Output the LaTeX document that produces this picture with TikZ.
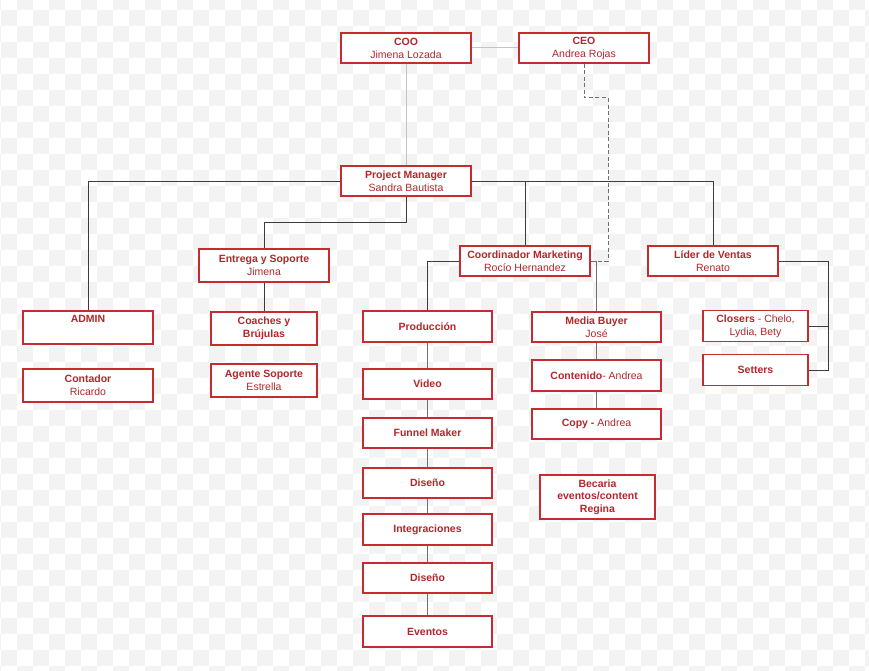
\documentclass[tikz,border=0pt]{standalone}
\usepackage{fontspec}
\setmainfont{Liberation Sans}
\usepackage{tikz}
\usetikzlibrary{calc}

\definecolor{boxred}{HTML}{C62B2F}
\definecolor{txtred}{HTML}{B3262B}
\definecolor{chk}{HTML}{F3F3F3}
\definecolor{linkdark}{HTML}{3C3C3C}
\definecolor{linkmid}{HTML}{707070}
\definecolor{linklight}{HTML}{C4C4C4}

\begin{document}
\begin{tikzpicture}[x=1pt, y=-1pt,
  box/.style={rectangle, draw=boxred, fill=white, line width=1.4pt,
              minimum width=130pt, minimum height=30pt, inner sep=1pt,
              align=center, text=txtred, font=\fontsize{10.5}{13}\selectfont},
  smallbox/.style={box, minimum width=106pt, minimum height=31pt},
  link/.style={draw=linkdark, line width=0.9pt},
  chainlink/.style={draw=linkmid, line width=1pt},
  faint/.style={draw=linklight, line width=1pt},
  dashlink/.style={draw=linkmid, line width=1pt, dash pattern=on 4pt off 2.5pt}
]
%% Page and checkered background
\useasboundingbox (0,0) rectangle (869,671);
\begin{scope}
  \clip (0,0) rectangle (869,671);
  \fill[white] (0,0) rectangle (869,671);
  \foreach \m in {0,...,42} {
    \pgfmathtruncatemacro{\s}{mod(\m,2)}
    \foreach \j in {0,...,28} {
      \pgfmathtruncatemacro{\k}{2*\j+\s}
      \fill[chk] (16*\k-15, 16*\m-6) rectangle ++(16,16);
    }
  }
\end{scope}

%% Direction
\node[box] at (406,48)    (coo)   {\textbf{COO}\\Jimena Lozada};
\node[box] at (584,48)    (ceo)   {\textbf{CEO}\\Andrea Rojas};
\node[box] at (406,181)   (pm)    {\textbf{Project Manager}\\Sandra Bautista};

%% Areas
\node[box, minimum height=33pt] at (264,265.5) (entrega) {\textbf{Entrega y Soporte}\\Jimena};
\node[box] at (525,261)   (coord) {\textbf{Coordinador Marketing}\\Rocío Hernandez};
\node[box] at (713,261)   (lider) {\textbf{Líder de Ventas}\\Renato};

%% Administration
\node[box, minimum height=33pt] at (88,327.5) (admin)    {\textbf{ADMIN}\\\strut};
\node[box, minimum height=33pt] at (88,385.5) (contador) {\textbf{Contador}\\Ricardo};

%% Delivery and support
\node[smallbox, minimum height=33pt] at (264,328.5) (coaches) {\textbf{Coaches y}\\\textbf{Brújulas}};
\node[smallbox, minimum height=33pt] at (264,380.5) (agente)  {\textbf{Agente Soporte}\\Estrella};

%% Marketing: production line
\node[box, minimum width=129pt, minimum height=31pt] at (427.5,326.5) (prod)    {\textbf{Producción}};
\node[box, minimum width=129pt] at (427.5,384)   (video)   {\textbf{Video}};
\node[box, minimum width=129pt] at (427.5,433)   (funnel)  {\textbf{Funnel Maker}};
\node[box, minimum width=129pt] at (427.5,483)   (disenoA) {\textbf{Diseño}};
\node[box, minimum width=129pt, minimum height=31pt] at (427.5,529.5) (integ) {\textbf{Integraciones}};
\node[box, minimum width=129pt] at (427.5,578)   (disenoB) {\textbf{Diseño}};
\node[box, minimum width=129pt, minimum height=31pt] at (427.5,631.5) (eventos) {\textbf{Eventos}};

%% Marketing: media
\node[box, minimum width=129pt] at (596.5,327)   (media)     {\textbf{Media Buyer}\\José};
\node[box, minimum width=129pt, minimum height=31pt] at (596.5,375.5) (contenido) {\textbf{Contenido}- Andrea};
\node[box, minimum width=129pt] at (596.5,424)   (copy)      {\textbf{Copy -} Andrea};
\node[box, minimum width=115pt, minimum height=44pt, font=\fontsize{10.5}{12.5}\selectfont]
  at (597.5,497) (becaria) {\textbf{Becaria}\\\textbf{eventos/content}\\\textbf{Regina}};

%% Sales
\node[smallbox, minimum width=105pt] at (755.5,326) (closers) {\textbf{Closers} - Chelo,\\Lydia, Bety};
\node[smallbox, minimum width=105pt] at (755.5,370) (setters) {\textbf{Setters}};

%% Helper points
\coordinate (ceobend) at (608,98);
\coordinate (pmdrop)  at (406,222);
\coordinate (salesbus) at (828,370);

%% Connectors
\draw[faint] (coo) -- (ceo);
\draw[faint] (coo) -- (pm);
\draw[dashlink] (ceo.south) |- (ceobend) |- (coord.east);
\draw[link] (pm.east) -| (lider.north);
\draw[link] (pm.east -| coord.north) -- (coord.north);
\draw[link] (pm.west) -| (admin.north);
\draw[link] (pm.south) -- (pmdrop) -| (entrega.north);
\draw[link] (entrega) -- (coaches);
\draw[link] (coord.west) -| (prod.north);
\draw[chainlink] (coord.east) -| (media.north);
\foreach \a/\b in {prod/video, video/funnel, funnel/disenoA, disenoA/integ,
                   integ/disenoB, disenoB/eventos, media/contenido, contenido/copy}
  \draw[chainlink] (\a) -- (\b);
\draw[link] (lider.east) -| (salesbus) -- (setters.east);
\draw[link] (closers.east) -- (closers.east -| salesbus);
\end{tikzpicture}
\end{document}
